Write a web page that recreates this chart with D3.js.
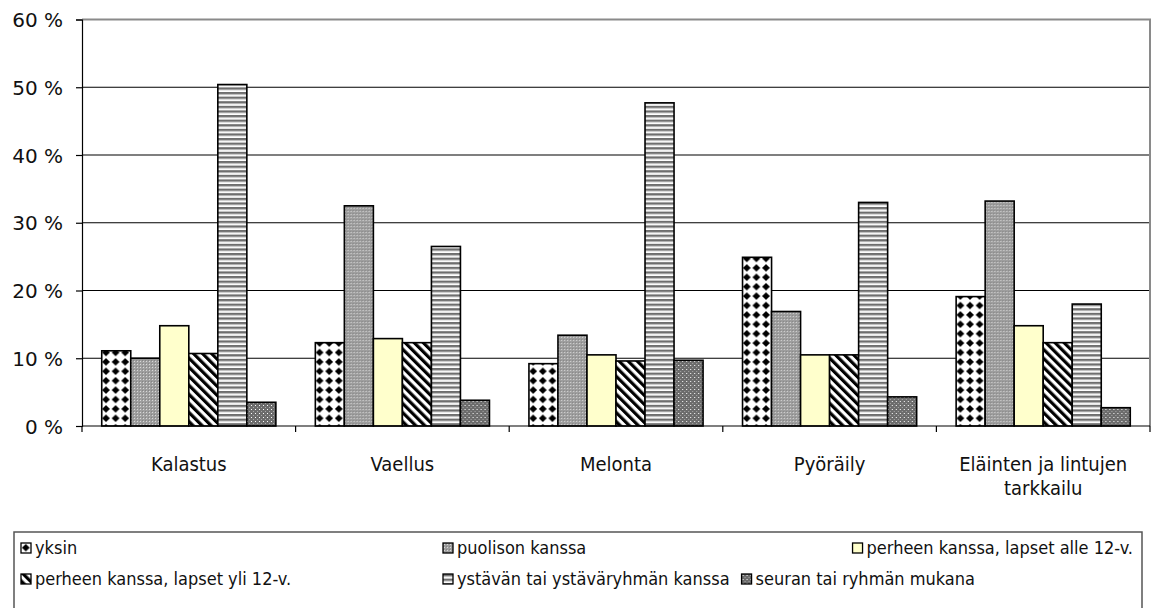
<!DOCTYPE html>
<html>
<head>
<meta charset="utf-8">
<script src="https://cdn.jsdelivr.net/npm/d3@7"></script>
<style>
  body { margin: 0; background: #fff; }
  svg text { font-family: "DejaVu Sans Condensed", "DejaVu Sans", sans-serif; fill: #111; }
</style>
</head>
<body>
<svg id="chart" width="1155" height="608"></svg>
<script>
// data (percent)
const categories = ['Kalastus', 'Vaellus', 'Melonta', 'Pyöräily', 'Eläinten ja lintujen tarkkailu'];
const seriesNames = ['yksin', 'puolison kanssa', 'perheen kanssa, lapset alle 12-v.',
  'perheen kanssa, lapset yli 12-v.', 'ystävän tai ystäväryhmän kanssa', 'seuran tai ryhmän mukana'];
const yksin = [11.1, 12.3, 9.2, 24.9, 19.1];
const puolison = [10.0, 32.5, 13.4, 16.9, 33.2];
const lapsetAlle = [14.8, 12.9, 10.5, 10.5, 14.8];
const lapsetYli = [10.7, 12.3, 9.6, 10.5, 12.3];
const ystavat = [50.4, 26.5, 47.7, 33.0, 18.0];
const seura = [3.5, 3.8, 9.7, 4.3, 2.7];
const yTicks = [0, 10, 20, 30, 40, 50, 60];

const seriesValues = [yksin, puolison, lapsetAlle, lapsetYli, ystavat, seura];
const fills = ['url(#p-yksin)', 'url(#p-puoliso)', '#ffffcc', 'url(#p-yli)', 'url(#p-ystava)', 'url(#p-seura)'];

const svg = d3.select('#chart');
const plotLeft = 82, plotRight = 1150, plotTop = 19.5, plotBottom = 426;

// ---- patterns
const defs = svg.append('defs');

let p = defs.append('pattern').attr('id', 'p-yksin')
  .attr('patternUnits', 'userSpaceOnUse').attr('width', 9.6).attr('height', 9.4);
p.append('rect').attr('width', 9.6).attr('height', 9.4).attr('fill', '#fff');
p.append('polygon').attr('points', '4.8,0.9 8.7,4.7 4.8,8.5 0.9,4.7').attr('fill', '#000');

p = defs.append('pattern').attr('id', 'p-puoliso')
  .attr('patternUnits', 'userSpaceOnUse').attr('width', 3).attr('height', 3);
p.append('rect').attr('width', 3).attr('height', 3).attr('fill', '#9e9e9e');
p.append('rect').attr('x', 1).attr('y', 1).attr('width', 1).attr('height', 1).attr('fill', '#d8d8d8');
p.append('rect').attr('x', 0).attr('y', 0).attr('width', 1).attr('height', 1).attr('fill', '#858585');

p = defs.append('pattern').attr('id', 'p-yli')
  .attr('patternUnits', 'userSpaceOnUse').attr('width', 6.4).attr('height', 6.4)
  .attr('patternTransform', 'rotate(-45)');
p.append('rect').attr('width', 6.4).attr('height', 6.4).attr('fill', '#fff');
p.append('rect').attr('width', 3.2).attr('height', 6.4).attr('fill', '#000');

p = defs.append('pattern').attr('id', 'p-ystava')
  .attr('patternUnits', 'userSpaceOnUse').attr('width', 4).attr('height', 4.6);
p.append('rect').attr('width', 4).attr('height', 4.6).attr('fill', '#fff');
p.append('rect').attr('y', 0).attr('width', 4).attr('height', 2).attr('fill', '#6e6e6e');
p.append('rect').attr('y', 2).attr('width', 4).attr('height', 0.9).attr('fill', '#a8a8a8');

p = defs.append('pattern').attr('id', 'p-seura')
  .attr('patternUnits', 'userSpaceOnUse').attr('width', 4).attr('height', 4);
p.append('rect').attr('width', 4).attr('height', 4).attr('fill', '#6c6c6c');
p.append('rect').attr('x', 1).attr('y', 1).attr('width', 1).attr('height', 1).attr('fill', '#fff');
p.append('rect').attr('x', 3).attr('y', 3).attr('width', 1).attr('height', 1).attr('fill', '#a8a8a8');

// ---- scales
const x0 = d3.scaleBand().domain(categories).range([plotLeft, plotRight]).padding(0);
const x1 = d3.scaleBand().domain(seriesNames).range([0, x0.bandwidth()])
  .paddingInner(0).paddingOuter(0.68);
const y = d3.scaleLinear().domain([0, 60]).range([plotBottom, plotTop]);

// ---- gridlines
svg.append('g').selectAll('line')
  .data(yTicks.filter(d => d > 0 && d < 60))
  .join('line')
  .attr('x1', plotLeft).attr('x2', plotRight)
  .attr('y1', d => y(d)).attr('y2', d => y(d))
  .attr('stroke', '#000').attr('stroke-width', 1.2);

// plot border (top and right, gray)
svg.append('path')
  .attr('d', `M${plotLeft},${y(60)}H${plotRight}V${plotBottom}`)
  .attr('fill', 'none').attr('stroke', '#8a8a8a').attr('stroke-width', 2);

// ---- bars
const rows = categories.map((c, i) => seriesNames.map((s, j) => ({cat: c, key: s, value: seriesValues[j][i], idx: j})));

svg.append('g').selectAll('g')
  .data(rows)
  .join('g')
  .attr('transform', (d, i) => `translate(${x0(categories[i])},0)`)
  .selectAll('rect')
  .data(d => d)
  .join('rect')
  .attr('x', d => x1(d.key))
  .attr('y', d => y(d.value))
  .attr('width', x1.bandwidth())
  .attr('height', d => plotBottom - y(d.value))
  .attr('fill', d => fills[d.idx])
  .attr('stroke', '#000')
  .attr('stroke-width', 1.6);

// ---- y axis
const yAxis = d3.axisLeft(y).tickValues(yTicks)
  .tickFormat(d => d + '\u00a0%')
  .tickSize(6).tickPadding(13);
const gy = svg.append('g').attr('transform', `translate(${plotLeft},0)`).call(yAxis);
gy.select('.domain').attr('stroke', '#000').attr('stroke-width', 1.2);
gy.selectAll('.tick line').attr('stroke', '#000').attr('stroke-width', 1.2);
gy.selectAll('.tick text')
  .style('font-family', '"DejaVu Sans", sans-serif')
  .style('font-size', '20px').attr('dy', '0.36em');

// ---- x axis (ticks between categories)
const gx = svg.append('g');
gx.append('line').attr('x1', plotLeft).attr('x2', plotRight).attr('y1', plotBottom).attr('y2', plotBottom)
  .attr('stroke', '#000').attr('stroke-width', 1.2);
gx.selectAll('line.tick')
  .data(categories.concat(['end']))
  .join('line')
  .attr('class', 'tick')
  .attr('x1', (d, i) => plotLeft + i * x0.step()).attr('x2', (d, i) => plotLeft + i * x0.step())
  .attr('y1', plotBottom).attr('y2', plotBottom + 6)
  .attr('stroke', '#000').attr('stroke-width', 1.2);

function wrap(text, width) {
  text.each(function () {
    const t = d3.select(this);
    const words = t.text().split(/\s+/).reverse();
    const x = t.attr('x');
    let line = [], word;
    let tspan = t.text(null).append('tspan').attr('x', x).attr('dy', 0);
    while ((word = words.pop())) {
      line.push(word);
      tspan.text(line.join(' '));
      if (tspan.node().getComputedTextLength() > width && line.length > 1) {
        line.pop();
        tspan.text(line.join(' '));
        line = [word];
        tspan = t.append('tspan').attr('x', x).attr('dy', 24).text(word);
      }
    }
  });
}

gx.selectAll('text')
  .data(categories)
  .join('text')
  .attr('x', d => x0(d) + x0.bandwidth() / 2)
  .attr('y', 471)
  .attr('text-anchor', 'middle')
  .style('font-size', '20px')
  .text(d => d)
  .call(wrap, 205);

// ---- legend
svg.append('rect')
  .attr('x', 14).attr('y', 532).attr('width', 1128).attr('height', 90)
  .attr('fill', '#fff').attr('stroke', '#555').attr('stroke-width', 1.5);

const legendRows = [543, 574];
const legend = svg.append('g').selectAll('g')
  .data(seriesNames)
  .join('g');
legend.append('rect')
  .attr('width', 10).attr('height', 10)
  .attr('fill', (d, i) => fills[i])
  .attr('stroke', '#000').attr('stroke-width', 1.3);
legend.append('text')
  .attr('x', 14).attr('y', 5).attr('dy', '0.36em')
  .style('font-size', '18px')
  .text(d => d);

// place the items like the reference: two fixed columns, the third one flows
const textW = legend.select('text').nodes().map(n => n.getComputedTextLength());
const legendX = [21, 443, 1133 - textW[2] - 14, 21, 443, 443 + 14 + textW[4] + 12];
legend.attr('transform', (d, i) => `translate(${legendX[i]},${legendRows[Math.floor(i / 3)]})`);
</script>
</body>
</html>
